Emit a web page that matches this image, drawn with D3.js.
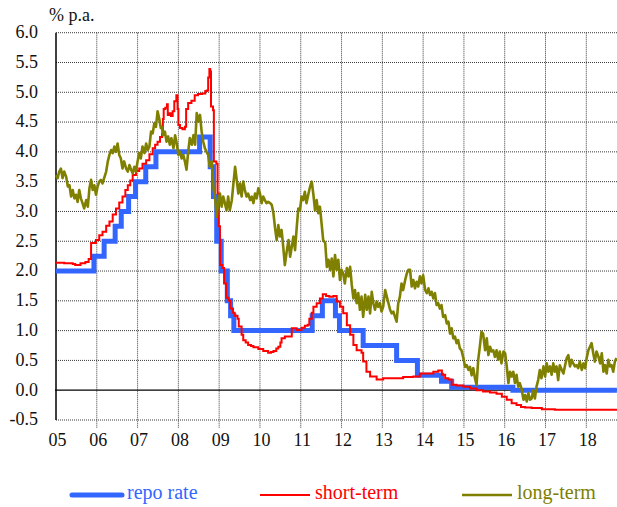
<!DOCTYPE html>
<html>
<head>
<meta charset="utf-8">
<script src="https://cdn.jsdelivr.net/npm/d3@7/dist/d3.min.js"></script>
<style>
  html, body { margin: 0; padding: 0; background: #fff; }
  svg { display: block; }
</style>
</head>
<body>
<script>
// Interest rates, % p.a.
const yearLabels = ["05","06","07","08","09","10","11","12","13","14","15","16","17","18"];
const yearTicks = [2005,2006,2007,2008,2009,2010,2011,2012,2013,2014,2015,2016,2017,2018];
const yTicks = [-0.5,0,0.5,1,1.5,2,2.5,3,3.5,4,4.5,5,5.5,6];
const yLabels = ["-0.5","0.0","0.5","1.0","1.5","2.0","2.5","3.0","3.5","4.0","4.5","5.0","5.5","6.0"];
const seriesNames = ["repo rate","short-term","long-term"];

// policy (repo) rate: [decimal year, rate] at each change
const repoRate = [
  [2005.00,2.00],[2005.93,2.25],[2006.18,2.50],[2006.45,2.75],[2006.60,3.00],
  [2006.78,3.25],[2006.95,3.50],[2007.20,3.75],[2007.45,4.00],[2008.52,4.25],
  [2008.78,3.75],[2008.86,3.25],[2008.94,2.50],[2009.05,2.00],[2009.20,1.50],
  [2009.28,1.25],[2009.36,1.00],[2011.28,1.25],[2011.53,1.50],[2011.85,1.25],
  [2011.95,1.00],[2012.53,0.75],[2013.35,0.50],[2013.86,0.25],[2014.45,0.15],
  [2014.70,0.05],[2016.20,0.00],[2018.75,0.00]
];

// short-term market rate
const shortTerm = [
  [2005.00,2.14],[2005.20,2.13],[2005.41,2.12],[2005.47,2.10],[2005.60,2.13],
  [2005.72,2.15],[2005.80,2.20],[2005.86,2.47],[2005.98,2.52],[2006.06,2.60],
  [2006.14,2.66],[2006.23,2.76],[2006.31,2.83],[2006.39,2.95],[2006.47,3.05],
  [2006.55,3.15],[2006.63,3.25],[2006.70,3.36],[2006.76,3.44],[2006.82,3.52],
  [2006.88,3.61],[2006.96,3.68],[2007.04,3.72],[2007.12,3.80],[2007.21,3.86],
  [2007.29,3.96],[2007.37,4.06],[2007.43,4.12],[2007.49,4.17],[2007.55,4.25],
  [2007.60,4.31],[2007.62,4.55],[2007.64,4.72],[2007.68,4.74],[2007.72,4.80],
  [2007.74,4.62],[2007.78,4.65],[2007.82,4.60],[2007.86,4.68],[2007.90,4.85],
  [2007.95,4.95],[2007.98,4.72],[2008.00,4.45],[2008.04,4.40],[2008.10,4.38],
  [2008.16,4.42],[2008.19,4.72],[2008.24,4.82],[2008.32,4.86],[2008.40,4.95],
  [2008.48,4.97],[2008.58,4.98],[2008.66,5.02],[2008.70,5.03],[2008.73,5.25],
  [2008.76,5.39],[2008.78,5.35],[2008.80,4.76],[2008.85,4.70],[2008.87,3.84],
  [2008.93,3.80],[2008.96,3.30],[2008.99,2.75],[2009.02,2.10],[2009.08,2.05],
  [2009.12,1.79],[2009.17,1.55],[2009.23,1.50],[2009.27,1.37],[2009.34,1.30],
  [2009.38,1.25],[2009.45,1.20],[2009.48,1.07],[2009.55,0.93],[2009.59,0.84],
  [2009.65,0.80],[2009.71,0.76],[2009.78,0.74],[2009.84,0.72],[2009.96,0.69],
  [2010.08,0.66],[2010.20,0.63],[2010.27,0.64],[2010.33,0.66],[2010.40,0.70],
  [2010.45,0.73],[2010.50,0.80],[2010.53,0.87],[2010.61,0.90],[2010.74,0.90],
  [2010.78,1.04],[2010.90,1.01],[2011.02,1.05],[2011.10,1.08],[2011.17,1.10],
  [2011.21,1.20],[2011.27,1.30],[2011.31,1.40],[2011.39,1.46],[2011.47,1.54],
  [2011.54,1.61],[2011.62,1.58],[2011.70,1.57],[2011.80,1.58],[2011.88,1.49],
  [2011.96,1.40],[2012.04,1.29],[2012.13,1.09],[2012.21,0.93],[2012.29,0.76],
  [2012.37,0.67],[2012.49,0.63],[2012.53,0.48],[2012.61,0.31],[2012.70,0.23],
  [2012.86,0.18],[2013.02,0.20],[2013.27,0.20],[2013.51,0.22],[2013.76,0.23],
  [2013.84,0.23],[2013.92,0.28],[2014.09,0.28],[2014.25,0.31],[2014.37,0.33],
  [2014.46,0.26],[2014.54,0.20],[2014.62,0.18],[2014.70,0.09],[2014.82,0.08],
  [2014.99,0.06],[2015.15,0.03],[2015.31,0.00],[2015.47,-0.02],[2015.64,-0.04],
  [2015.80,-0.06],[2015.93,-0.11],[2016.05,-0.16],[2016.17,-0.22],[2016.29,-0.25],
  [2016.40,-0.28],[2016.50,-0.29],[2016.66,-0.30],[2016.91,-0.32],[2017.23,-0.33],
  [2017.80,-0.33],[2018.30,-0.33],[2018.75,-0.32]
];

// long-term government bond yield
const longTerm = [
  [2005.00,3.61],[2005.04,3.56],[2005.08,3.67],[2005.12,3.72],[2005.16,3.56],
  [2005.20,3.67],[2005.25,3.58],[2005.29,3.42],[2005.33,3.44],[2005.37,3.25],
  [2005.41,3.36],[2005.45,3.22],[2005.49,3.28],[2005.53,3.16],[2005.57,3.36],
  [2005.61,3.22],[2005.65,3.14],[2005.69,3.05],[2005.74,3.19],[2005.78,3.08],
  [2005.82,3.39],[2005.86,3.53],[2005.90,3.36],[2005.94,3.44],[2005.98,3.28],
  [2006.02,3.42],[2006.06,3.50],[2006.10,3.53],[2006.14,3.47],[2006.18,3.56],
  [2006.23,3.67],[2006.27,3.84],[2006.31,3.95],[2006.35,4.03],[2006.39,3.98],
  [2006.43,4.09],[2006.47,4.00],[2006.51,4.14],[2006.55,3.95],[2006.59,3.89],
  [2006.63,3.72],[2006.67,3.84],[2006.72,3.72],[2006.76,3.67],[2006.80,3.78],
  [2006.84,3.70],[2006.88,3.64],[2006.92,3.75],[2006.96,3.67],[2007.00,3.84],
  [2007.04,3.98],[2007.08,3.89],[2007.12,4.09],[2007.17,3.98],[2007.21,4.14],
  [2007.25,4.03],[2007.29,4.09],[2007.33,4.34],[2007.37,4.31],[2007.41,4.48],
  [2007.45,4.42],[2007.49,4.68],[2007.53,4.56],[2007.57,4.40],[2007.59,4.42],
  [2007.63,4.28],[2007.67,4.34],[2007.71,4.17],[2007.75,4.26],[2007.79,4.12],
  [2007.83,4.23],[2007.88,4.06],[2007.92,4.28],[2007.96,4.14],[2008.00,3.95],
  [2008.04,4.00],[2008.08,3.89],[2008.12,3.95],[2008.16,3.84],[2008.20,3.70],
  [2008.24,4.00],[2008.28,4.23],[2008.33,4.12],[2008.37,4.28],[2008.41,4.12],
  [2008.45,4.65],[2008.49,4.51],[2008.53,4.62],[2008.57,4.34],[2008.61,4.17],
  [2008.65,4.06],[2008.69,4.00],[2008.73,3.95],[2008.77,3.75],[2008.82,3.84],
  [2008.86,3.39],[2008.90,3.22],[2008.94,2.91],[2008.98,3.19],[2009.02,3.30],
  [2009.06,3.08],[2009.10,3.25],[2009.14,3.14],[2009.18,3.02],[2009.22,3.25],
  [2009.26,3.02],[2009.31,3.19],[2009.35,3.47],[2009.39,3.75],[2009.43,3.53],
  [2009.47,3.30],[2009.51,3.47],[2009.55,3.25],[2009.59,3.50],[2009.63,3.36],
  [2009.67,3.25],[2009.71,3.30],[2009.76,3.19],[2009.80,3.25],[2009.84,3.14],
  [2009.88,3.30],[2009.92,3.22],[2009.96,3.39],[2010.00,3.30],[2010.04,3.14],
  [2010.08,3.25],[2010.12,3.19],[2010.16,3.14],[2010.20,3.16],[2010.25,3.14],
  [2010.29,3.11],[2010.33,2.97],[2010.37,2.72],[2010.41,2.52],[2010.45,2.77],
  [2010.49,2.58],[2010.53,2.69],[2010.57,2.41],[2010.61,2.10],[2010.65,2.30],
  [2010.70,2.52],[2010.74,2.24],[2010.78,2.41],[2010.82,2.58],[2010.86,2.35],
  [2010.90,2.72],[2010.94,3.05],[2010.98,3.02],[2011.02,3.25],[2011.06,3.19],
  [2011.10,3.33],[2011.14,3.14],[2011.19,3.30],[2011.23,3.42],[2011.27,3.50],
  [2011.31,3.28],[2011.35,3.02],[2011.39,3.19],[2011.43,2.97],[2011.47,3.08],
  [2011.51,2.80],[2011.55,2.52],[2011.60,2.47],[2011.64,2.07],[2011.68,2.19],
  [2011.72,2.02],[2011.76,2.21],[2011.80,1.91],[2011.84,2.27],[2011.88,2.02],
  [2011.92,2.19],[2011.96,1.85],[2012.00,2.02],[2012.04,1.96],[2012.08,1.79],
  [2012.13,2.05],[2012.17,1.91],[2012.21,2.07],[2012.25,1.77],[2012.29,1.54],
  [2012.33,1.68],[2012.37,1.46],[2012.41,1.63],[2012.45,1.35],[2012.49,1.57],
  [2012.53,1.23],[2012.58,1.60],[2012.62,1.35],[2012.66,1.57],[2012.70,1.29],
  [2012.74,1.65],[2012.78,1.46],[2012.82,1.35],[2012.86,1.49],[2012.90,1.40],
  [2012.94,1.46],[2012.98,1.32],[2013.02,1.40],[2013.07,1.68],[2013.11,1.57],
  [2013.15,1.46],[2013.19,1.35],[2013.23,1.29],[2013.27,1.32],[2013.31,1.23],
  [2013.35,1.15],[2013.39,1.46],[2013.43,1.57],[2013.47,1.79],[2013.51,1.68],
  [2013.56,1.85],[2013.60,1.96],[2013.64,2.02],[2013.68,2.02],[2013.72,1.74],
  [2013.76,1.85],[2013.80,1.71],[2013.84,1.82],[2013.88,1.74],[2013.92,1.91],
  [2013.96,1.79],[2014.00,1.93],[2014.05,1.68],[2014.09,1.63],[2014.13,1.71],
  [2014.17,1.60],[2014.21,1.65],[2014.25,1.54],[2014.29,1.63],[2014.33,1.43],
  [2014.37,1.46],[2014.41,1.37],[2014.45,1.43],[2014.49,1.23],[2014.54,1.26],
  [2014.58,1.12],[2014.62,1.15],[2014.66,0.95],[2014.70,1.04],[2014.74,0.87],
  [2014.78,0.90],[2014.82,0.79],[2014.86,0.84],[2014.90,0.70],[2014.94,0.67],
  [2014.99,0.53],[2015.03,0.39],[2015.07,0.42],[2015.11,0.34],[2015.15,0.39],
  [2015.19,0.25],[2015.23,0.37],[2015.27,0.20],[2015.31,0.09],[2015.35,0.51],
  [2015.39,0.73],[2015.43,0.98],[2015.47,0.95],[2015.52,0.67],[2015.56,0.87],
  [2015.60,0.59],[2015.64,0.73],[2015.68,0.65],[2015.72,0.67],[2015.76,0.56],
  [2015.80,0.67],[2015.84,0.51],[2015.88,0.65],[2015.92,0.45],[2015.97,0.65],
  [2016.01,0.62],[2016.05,0.40],[2016.09,0.12],[2016.13,0.31],[2016.17,0.23],
  [2016.21,0.31],[2016.25,0.12],[2016.29,0.26],[2016.33,0.06],[2016.37,0.12],
  [2016.41,0.03],[2016.46,-0.16],[2016.50,-0.08],[2016.54,-0.19],[2016.58,-0.05],
  [2016.62,-0.16],[2016.66,-0.14],[2016.70,0.00],[2016.74,-0.14],[2016.78,0.06],
  [2016.82,0.17],[2016.86,0.34],[2016.90,0.20],[2016.95,0.40],[2016.99,0.23],
  [2017.03,0.45],[2017.07,0.31],[2017.11,0.40],[2017.15,0.26],[2017.19,0.45],
  [2017.23,0.31],[2017.27,0.40],[2017.31,0.17],[2017.35,0.42],[2017.40,0.34],
  [2017.44,0.28],[2017.48,0.42],[2017.52,0.54],[2017.56,0.59],[2017.60,0.40],
  [2017.64,0.51],[2017.68,0.45],[2017.72,0.40],[2017.76,0.42],[2017.80,0.37],
  [2017.84,0.48],[2017.89,0.34],[2017.93,0.45],[2017.97,0.37],[2018.01,0.54],
  [2018.05,0.67],[2018.09,0.73],[2018.13,0.79],[2018.17,0.62],[2018.21,0.48],
  [2018.25,0.65],[2018.30,0.56],[2018.34,0.45],[2018.38,0.62],[2018.42,0.31],
  [2018.46,0.42],[2018.50,0.28],[2018.54,0.51],[2018.58,0.40],[2018.62,0.42],
  [2018.66,0.31],[2018.70,0.48],[2018.74,0.54]
];

const colors = ["#3366ff", "#ff0000", "#808000"];
const FONT = "\"Liberation Serif\"";

const W = 617, H = 507;
const svg = d3.select("body").append("svg").attr("width", W).attr("height", H);

const x = d3.scaleLinear().domain([2005, 2018]).range([56, 586.3]);
const y = d3.scaleLinear().domain([-0.5, 6]).range([420, 32.7]);
const plotLeft = 56, plotRight = W, plotTop = y(6), plotBottom = y(-0.5);

// grid
const grid = svg.append("g").attr("stroke", "#3a3a3a").attr("stroke-width", 1)
  .attr("stroke-dasharray", "1,1").attr("fill", "none");
grid.selectAll("line.h").data(yTicks.filter(d => d !== 0)).join("line")
  .attr("x1", plotLeft).attr("x2", plotRight)
  .attr("y1", d => y(d)).attr("y2", d => y(d));
grid.selectAll("line.v").data(yearTicks.slice(1)).join("line")
  .attr("x1", d => x(d)).attr("x2", d => x(d))
  .attr("y1", plotTop).attr("y2", plotBottom + 8);

// zero line and left axis
svg.append("line").attr("x1", plotLeft - 1).attr("x2", plotRight)
  .attr("y1", y(0)).attr("y2", y(0)).attr("stroke", "#000").attr("stroke-width", 1.3);
svg.append("line").attr("x1", plotLeft).attr("x2", plotLeft)
  .attr("y1", plotTop).attr("y2", plotBottom).attr("stroke", "#000").attr("stroke-width", 1.5);

// axis labels
svg.append("g").selectAll("text").data(yTicks).join("text")
  .style("font-family", FONT)
  .attr("x", 38).attr("y", d => y(d)).attr("dy", "0.3em")
  .attr("text-anchor", "end").attr("font-size", 18).attr("fill", "#111")
  .text((d, i) => yLabels[i]);
svg.append("g").selectAll("text").data(yearTicks).join("text")
  .style("font-family", FONT)
  .attr("x", d => x(d) + 1.5).attr("y", 446)
  .attr("text-anchor", "middle").attr("font-size", 18).attr("fill", "#111")
  .text((d, i) => yearLabels[i]);
svg.append("text").style("font-family", FONT)
  .attr("x", 49).attr("y", 21).attr("font-size", 18).attr("fill", "#111")
  .text("% p.a.");

// series
const plot = svg.append("g");
const lineStep = d3.line().x(d => x(d[0])).y(d => y(d[1])).curve(d3.curveStepAfter);
const lineLin = d3.line().x(d => x(d[0])).y(d => y(d[1]));
plot.append("path").datum(repoRate).attr("d", lineStep)
  .attr("fill", "none").attr("stroke", colors[0]).attr("stroke-width", 5);
plot.append("path").datum(shortTerm).attr("d", lineStep)
  .attr("fill", "none").attr("stroke", colors[1]).attr("stroke-width", 2);
plot.append("path").datum(longTerm).attr("d", lineLin)
  .attr("fill", "none").attr("stroke", colors[2]).attr("stroke-width", 2.6)
  .attr("stroke-linejoin", "round");

// legend
const legendItems = [
  {x1: 72, x2: 122, tx: 127, w: 5, cap: "round"},
  {x1: 260, x2: 310, tx: 315, w: 2, cap: "butt"},
  {x1: 462, x2: 512, tx: 517, w: 2.6, cap: "butt"}
];
const lg = svg.append("g");
legendItems.forEach((it, i) => {
  lg.append("line").attr("x1", it.x1).attr("x2", it.x2).attr("y1", 495).attr("y2", 495)
    .attr("stroke", colors[i]).attr("stroke-width", it.w).attr("stroke-linecap", it.cap);
  lg.append("text").style("font-family", FONT)
    .attr("x", it.tx).attr("y", 499).attr("font-size", 20)
    .attr("fill", colors[i]).text(seriesNames[i]);
});
</script>
</body>
</html>
